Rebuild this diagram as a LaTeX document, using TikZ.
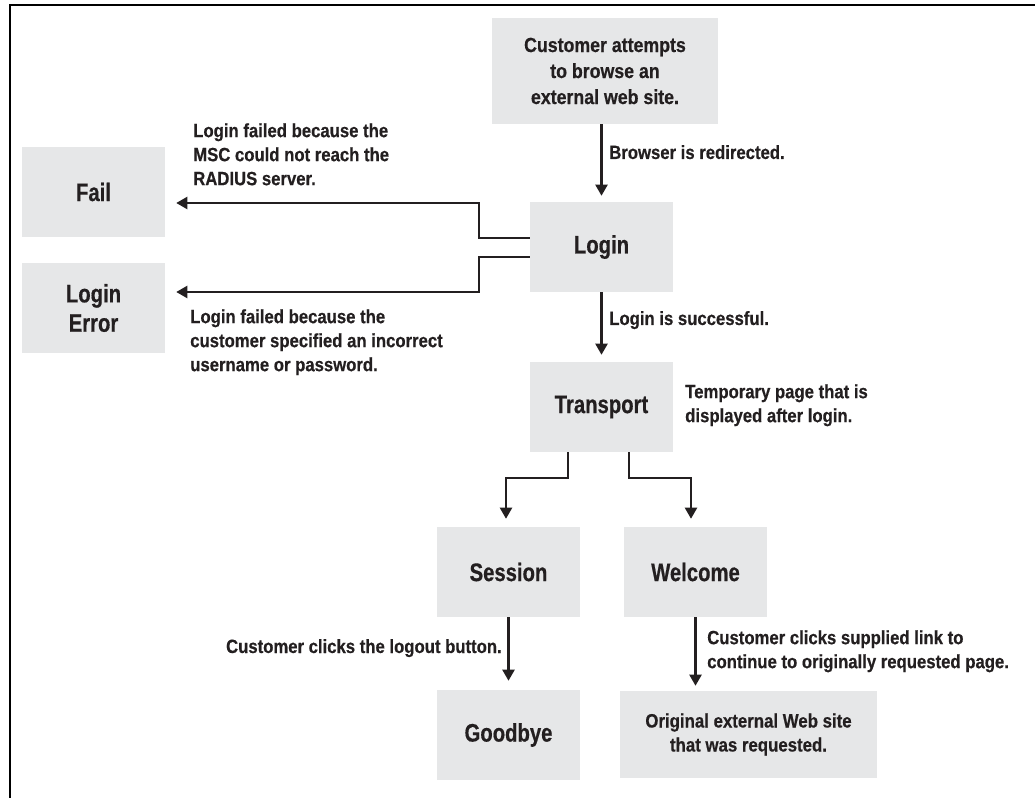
\documentclass[tikz,border=0pt]{standalone}
\usepackage{fontspec}
\setmainfont{Liberation Sans}
\newfontfamily\labfont{Liberation Sans}[FakeStretch=0.87, BoldFeatures={FakeBold=0.5}]
\newfontfamily\boxfont{Liberation Sans}[FakeStretch=0.8, BoldFeatures={FakeBold=0.5}]
\usetikzlibrary{arrows.meta,calc}
\definecolor{boxgrey}{HTML}{E6E7E8}
\definecolor{ink}{HTML}{231F20}
\begin{document}
\begin{tikzpicture}[x=0.75pt,y=-0.75pt,
  box/.style={fill=boxgrey, inner sep=0pt, align=center, text=ink,
    minimum width=107.25pt, minimum height=67.5pt,
    font=\boxfont\bfseries\fontsize{19}{22}\selectfont},
  lab/.style={inner sep=0pt, align=left, text=ink,
    font=\labfont\bfseries\fontsize{14.4}{18}\selectfont},
  arr/.style={draw=ink, line width=1.6pt, line join=miter,
    -{Triangle[length=8.25pt,width=9pt]}},
  framestyle/.style={draw=black, line width=1.5pt, line join=miter}]

\useasboundingbox (0,0) rectangle (1035,798);
\draw[framestyle] (10.3,798) -- (10.3,5.2) -- (1035,5.2);

% boxes
\node[box, minimum width=169.5pt, minimum height=79.5pt,
  font=\labfont\bfseries\fontsize{15.3}{19.5}\selectfont] (top) at (605,71)
  {Customer attempts\\to browse an\\external web site.};
\node[box] (login) at (601.5,247) {Login};
\node[box] (transport) at (601.5,407) {Transport};
\node[box] (fail) at (93.5,192) {Fail};
\node[box] (loginerr) at (93.5,308) {Login\\Error};
\node[box] (session) at (508.5,572) {Session};
\node[box] (welcome) at (695.5,572) {Welcome};
\node[box] (goodbye) at (508.5,735) {Goodbye};
\node[box, minimum width=192.75pt, minimum height=65.25pt,
  font=\labfont\bfseries\fontsize{14.5}{18}\selectfont] (original) at (748.5,734.5)
  {Original external Web site\\that was requested.};

% labels
\node[lab, anchor=north west] (lfail) at (193,123)
  {Login failed because the\\MSC could not reach the\\RADIUS server.};
\node[lab, anchor=north west] (lerr) at (190,309)
  {Login failed because the\\customer specified an incorrect\\username or password.};
\node[lab, anchor=base west] (lbrowse) at (609,159) {Browser is redirected.};
\node[lab, anchor=base west] (lsucc) at (609,325) {Login is successful.};
\node[lab, anchor=north west] (ltemp) at (685,384)
  {Temporary page that is\\displayed after login.};
\node[lab, anchor=base east] (lout) at (502,653) {Customer clicks the logout button.};
\node[lab, anchor=north west] (llink) at (707,630)
  {Customer clicks supplied link to\\continue to originally requested page.};

% connectors
\coordinate (bend) at (479,0);
\draw[arr] (login.north |- top.south) -- ($(login.north)+(0,-6)$);
\draw[arr] (login.south) -- ($(transport.north)+(0,-7)$);
\draw[arr] ($(login.west)+(0,-9)$) -| ($(bend |- fail.east)+(0,11)$)
  -- ($(fail.east)+(11,11)$);
\draw[arr] ($(login.west)+(0,10)$) -| ($(bend |- loginerr.east)+(0,-16)$)
  -- ($(loginerr.east)+(11,-16)$);
\draw[arr] ($(transport.south)+(-33.5,0)$) |- ($(session.north)+(-2.5,-49)$)
  -- ($(session.north)+(-2.5,-8)$);
\draw[arr] ($(transport.south)+(27.5,0)$) |- ($(welcome.north)+(-4.5,-49)$)
  -- ($(welcome.north)+(-4.5,-8)$);
\draw[arr] (session.south) -- ($(goodbye.north)+(0,-9)$);
\draw[arr] (welcome.south) -- ($(welcome.south |- original.north)+(0,-5)$);
\end{tikzpicture}
\end{document}
